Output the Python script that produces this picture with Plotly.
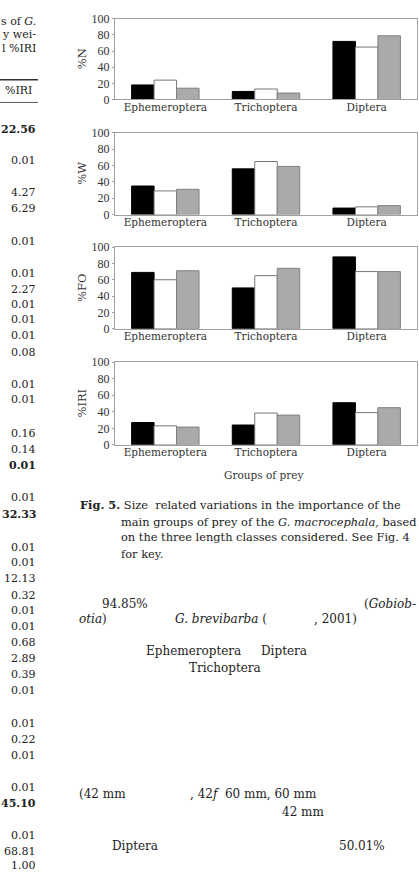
import plotly.graph_objects as go

W, H = 419, 872
FONT = "DejaVu Serif"

# ---------------- data ----------------
groups = ["Ephemeroptera", "Trichoptera", "Diptera"]
class_names = ["Small", "Medium", "Large"]

N_small = [18, 10, 72]
N_mid = [24, 13, 65]
N_large = [14, 8, 79]

W_small = [35, 56, 8]
W_mid = [29, 65, 9.5]
W_large = [31, 59, 11]

FO_small = [69, 50, 88]
FO_mid = [60, 65, 70]
FO_large = [71, 74, 70]

IRI_small = [27, 24, 51]
IRI_mid = [23, 38.5, 39]
IRI_large = [21.5, 36, 45]

panel_titles = ["%N", "%W", "%FO", "%IRI"]
y_ticks = [0, 20, 40, 60, 80, 100]

# left-hand table column (partial page)
table_vals = ["22.56", "0.01", "4.27", "6.29", "0.01", "0.01", "2.27", "0.01", "0.01",
              "0.01", "0.08", "0.01", "0.01", "0.16", "0.14", "0.01", "0.01", "32.33",
              "0.01", "0.01", "12.13", "0.32", "0.01", "0.01", "0.68", "2.89", "0.39",
              "0.01", "0.01", "0.22", "0.01", "0.01", "45.10", "0.01", "68.81", "1.00"]
table_y = [124, 156, 189, 205, 238, 271, 287, 302, 318, 334, 351, 384, 399, 433, 450, 466,
           499, 516, 549, 565, 581, 598, 613, 630, 646, 662, 678, 695, 728, 744, 761,
           793, 809, 842, 858, 873]
table_bold = {"22.56", "32.33", "45.10"}
bold_idx = {15}

# ---------------- layout helpers ----------------
def px(x):
    return x / W

def py(y):
    return 1 - y / H

panels = [(12, 94), (128, 211), (244, 327), (361, 445)]
series = [
    (N_small, N_mid, N_large),
    (W_small, W_mid, W_large),
    (FO_small, FO_mid, FO_large),
    (IRI_small, IRI_mid, IRI_large),
]
fills = ["#000000", "#ffffff", "#aaaaaa"]
lines = ["#000000", "#777777", "#808080"]

fig = go.Figure()
layout = dict(
    width=W, height=H, margin=dict(l=0, r=0, t=0, b=0),
    paper_bgcolor="white", plot_bgcolor="white",
    barmode="group", bargap=0.33, bargroupgap=0.0,
    showlegend=False,
    font=dict(family=FONT, size=11, color="#222"),
)
annotations = []
shapes = []

for i, ((top, bot), vals) in enumerate(zip(panels, series)):
    k = "" if i == 0 else str(i + 1)
    for j, v in enumerate(vals):
        fig.add_trace(go.Bar(
            x=groups, y=v, name=class_names[j],
            marker=dict(color=fills[j], line=dict(color=lines[j], width=1)),
            xaxis="x" + k, yaxis="y" + k,
        ))
    layout["xaxis" + k] = dict(
        domain=[px(115), px(417)], anchor="y" + k,
        showline=True, linecolor="#a0a0a0", linewidth=1, mirror=True,
        showgrid=False, ticks="", ticklabelstandoff=-2,
        tickfont=dict(family=FONT, size=10.5, color="#333"),
    )
    layout["yaxis" + k] = dict(
        domain=[py(bot), py(top)], anchor="x" + k, range=[0, 100],
        tickvals=y_ticks, showline=True, linecolor="#a0a0a0", linewidth=1, mirror=True,
        showgrid=False, ticks="outside", ticklen=2, tickcolor="#a0a0a0",
        zeroline=False, tickfont=dict(family="Liberation Serif", size=12, color="#333"),
    )
    annotations.append(dict(
        text=panel_titles[i], x=px(82), y=py((top + bot) / 2), xref="paper", yref="paper",
        textangle=-90, showarrow=False, font=dict(family=FONT, size=11.5, color="#333"),
        xanchor="center", yanchor="middle",
    ))

annotations.append(dict(text="Groups of prey", x=px(263), y=py(476), xref="paper", yref="paper",
                        showarrow=False, font=dict(family=FONT, size=10.5, color="#333"),
                        xanchor="center", yanchor="middle"))

def txt(s, x, y, anchor="left", size=12, color="#222"):
    annotations.append(dict(text=s, x=px(x), y=py(y), xref="paper", yref="paper",
                            showarrow=False, xanchor=anchor, yanchor="middle",
                            font=dict(family=FONT, size=size, color=color)))

# caption
CAP = 11.4
txt("<b>Fig. 5.</b> Size  related variations in the importance of the", 78, 506, size=CAP)
txt("main groups of prey of the <i>G. macrocephala</i>, based", 119, 523, size=CAP)
txt("on the three length classes considered. See Fig. 4", 119, 539, size=CAP)
txt("for key.", 119, 556, size=CAP)

# partial table on the left
txt("s of <i>G.</i>", 38, 15, anchor="right", size=11)
txt("y wei-", 38, 28, anchor="right", size=11)
txt("l %IRI", 38, 42, anchor="right", size=11)
txt("%IRI", 34, 85, anchor="right", size=11)
shapes.append(dict(type="line", xref="paper", yref="paper", x0=0, x1=px(38), y0=py(74), y1=py(74),
                   line=dict(color="#333", width=1.5)))
shapes.append(dict(type="line", xref="paper", yref="paper", x0=0, x1=px(38), y0=py(97), y1=py(97),
                   line=dict(color="#333", width=0.8)))
for idx, (v, y) in enumerate(zip(table_vals, table_y)):
    s = "<b>%s</b>" % v if (v in table_bold or idx in bold_idx) else v
    txt(s, 38, y, anchor="right", size=11)

# body text fragments (legible parts of the page below the figure)
txt("94.85%", 100, 607)
txt("(<i>Gobiob-</i>", 418, 607, anchor="right")
txt("<i>otia</i>)", 77, 622)
txt("<i>G. brevibarba</i> (", 173, 622)
txt(", 2001)", 312, 622)
txt("Ephemeroptera", 144, 655)
txt("Diptera", 259, 655)
txt("Trichoptera", 187, 672)
txt("(42 mm", 77, 800)
txt(", 42<i>f</i>  60 mm, 60 mm", 188, 800)
txt("42 mm", 280, 818)
txt("Diptera", 110, 853)
txt("50.01%", 337, 853)

layout["annotations"] = annotations
layout["shapes"] = shapes
fig.update_layout(**layout)
fig.write_html("out.html")
